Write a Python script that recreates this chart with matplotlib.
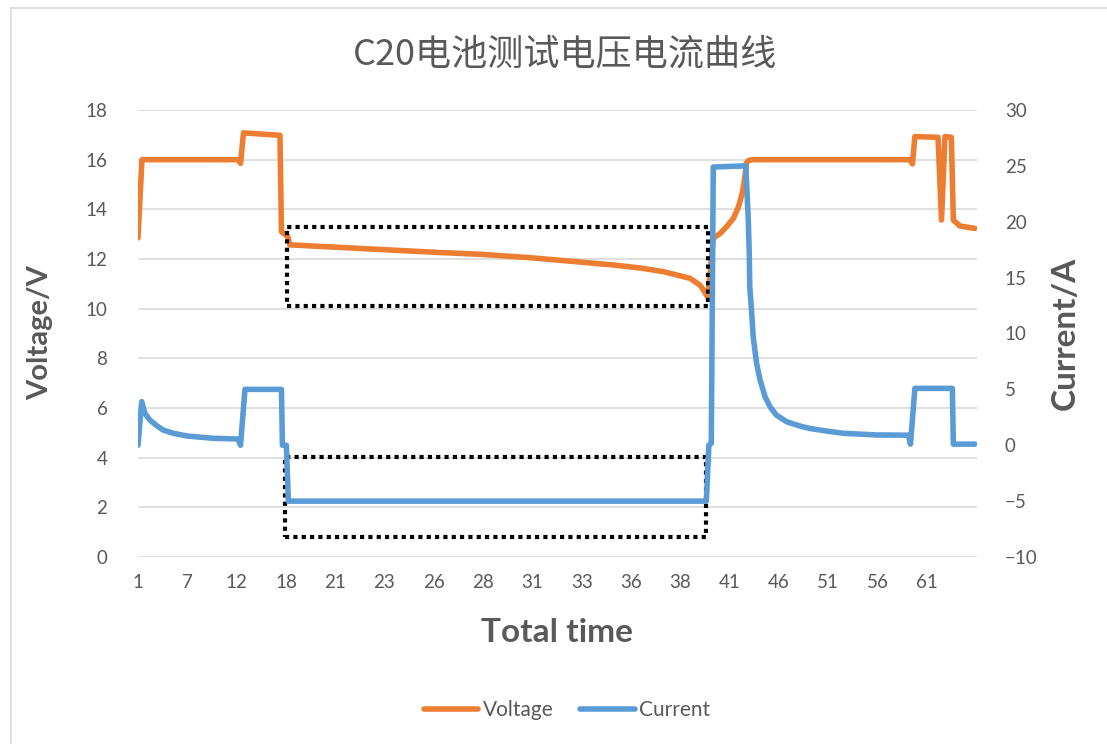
import matplotlib
matplotlib.use('Agg')
import matplotlib.pyplot as plt
from matplotlib.patches import Rectangle
from matplotlib.lines import Line2D

plt.rcParams['font.family'] = ['Lato', 'Noto Sans CJK SC', 'DejaVu Sans']

# x = sample index (category position), ticks every 10 samples
tick_labels = ['1', '7', '12', '18', '21', '23', '26', '28', '31', '33', '36', '38', '41', '46', '51', '56', '61']

v_x = [0, 0.8, 20.3, 20.8, 21.4, 28.8, 29.1, 30.4, 30.8, 61.3, 69.4, 79.7, 96.4, 101.8, 106.6, 112.0,
       114.0, 114.7, 115.4, 115.6, 116.7, 118.1, 119.4, 120.8, 121.8, 122.5, 122.8, 123.2, 123.4,
       123.8, 124.5, 156.6, 157.1, 157.6, 162.3, 163.0, 163.7, 165.0, 165.4, 166.7, 169.8]
voltage = [12.85, 16.0, 16.0, 15.85, 17.08, 16.98, 13.1, 12.9, 12.57, 12.26, 12.19, 12.05, 11.76, 11.64,
           11.49, 11.22, 10.95, 10.75, 10.52, 10.45, 12.83, 13.03, 13.3, 13.64, 14.1, 14.58, 14.9, 15.45,
           15.85, 15.96, 16.0, 16.0, 15.83, 16.93, 16.9, 13.57, 16.93, 16.9, 13.57, 13.33, 13.23]

i_x = [0, 0.75, 1.4, 2.4, 3.8, 5.1, 7.2, 9.9, 15.3, 20.3, 20.8, 21.7, 29.1, 29.3, 30.1, 30.5, 115.3,
       115.8, 116.3, 116.7, 123.3, 123.8, 124.0, 124.1, 124.5, 124.8, 125.5, 126.2, 127.2, 128.2,
       129.5, 131.6, 134.3, 136.3, 139.7, 143.1, 149.8, 156.3, 156.7, 157.6, 165.2, 165.4, 169.8]
current = [0.0, 3.9, 2.86, 2.26, 1.75, 1.36, 1.07, 0.83, 0.62, 0.56, 0.0, 5.0, 5.0, 0.0, 0.0, -5.0, -5.0,
           0.0, 0.17, 24.9, 25.0, 20.2, 17.2, 14.2, 11.8, 9.7, 7.3, 5.84, 4.35, 3.45, 2.7, 2.1, 1.72,
           1.5, 1.27, 1.07, 0.92, 0.9, 0.1, 5.09, 5.09, 0.1, 0.1]

orange = '#ED7D31'
blue = '#5B9BD5'
gray = '#595959'
grid = '#D9D9D9'

fig = plt.figure(figsize=(11.07, 7.44), dpi=100)
ax1 = fig.add_axes([138 / 1107, 1 - 557 / 744, (977 - 138) / 1107, (557 - 110) / 744])
ax2 = ax1.twinx()

ax1.set_xlim(0, 170.2)
ax1.set_ylim(0, 18)
ax2.set_ylim(-10, 30)
ax1.set_yticks(range(0, 19, 2))
ax2.set_yticks(range(-10, 31, 5))
ax1.set_xticks(range(0, 161, 10))
ax1.set_xticklabels(tick_labels)

ax1.grid(axis='y', color=grid, linewidth=1.2)
ax1.set_axisbelow(True)
for ax in (ax1, ax2):
    for s in ax.spines.values():
        s.set_visible(False)
    ax.tick_params(length=0, labelsize=13.5, colors=gray, pad=8)
ax1.tick_params(axis='y', pad=22)
ax2.tick_params(axis='y', pad=20)
ax1.tick_params(axis='x', pad=12)

ax1.plot(v_x, voltage, color=orange, lw=4, solid_joinstyle='round', solid_capstyle='round', zorder=3)
ax2.plot(i_x, current, color=blue, lw=4, solid_joinstyle='round', solid_capstyle='round', zorder=3)

# dotted boxes
ax1.add_patch(Rectangle((30.3, 10.11), 115.6 - 30.3, 13.28 - 10.11, fill=False, edgecolor='black',
                        lw=3, linestyle=(0, (1, 1)), zorder=5))
ax1.add_patch(Rectangle((29.8, 0.79), 115.2 - 29.8, 4.02 - 0.79, fill=False, edgecolor='black',
                        lw=3, linestyle=(0, (1, 1)), zorder=5))

fig.text(565 / 1107, 1 - 55 / 744, 'C20电池测试电压电流曲线', ha='center', va='center', fontsize=26,
         color=gray, family=['Noto Sans CJK SC', 'DejaVu Sans'])
fig.text(40 / 1107, 1 - 333 / 744, 'Voltage/V', rotation=90, ha='center', va='center',
         fontsize=21, fontweight='bold', color=gray)
fig.text(1065 / 1107, 1 - 333 / 744, 'Current/A', rotation=90, ha='center', va='center',
         fontsize=24, fontweight='bold', color=gray)
fig.text(557 / 1107, 1 - 633 / 744, 'Total time', ha='center', va='center',
         fontsize=24, fontweight='bold', color=gray)

handles = [Line2D([0], [0], color=orange, lw=4, solid_capstyle='round'),
           Line2D([0], [0], color=blue, lw=4, solid_capstyle='round')]
fig.legend(handles, ['Voltage', 'Current'], loc='center', bbox_to_anchor=(567 / 1107, 1 - 710 / 744),
           ncol=2, frameon=False, fontsize=15, handlelength=2.6, handletextpad=0.2,
           columnspacing=1.3, labelcolor=gray)

# chart area border
fig.add_artist(Line2D([11 / 1107, 11 / 1107], [0, 1 - 8 / 744], color=grid, lw=1.2, transform=fig.transFigure))
fig.add_artist(Line2D([11 / 1107, 1], [1 - 8 / 744, 1 - 8 / 744], color=grid, lw=1.2, transform=fig.transFigure))

fig.savefig('out.png', dpi=100)
